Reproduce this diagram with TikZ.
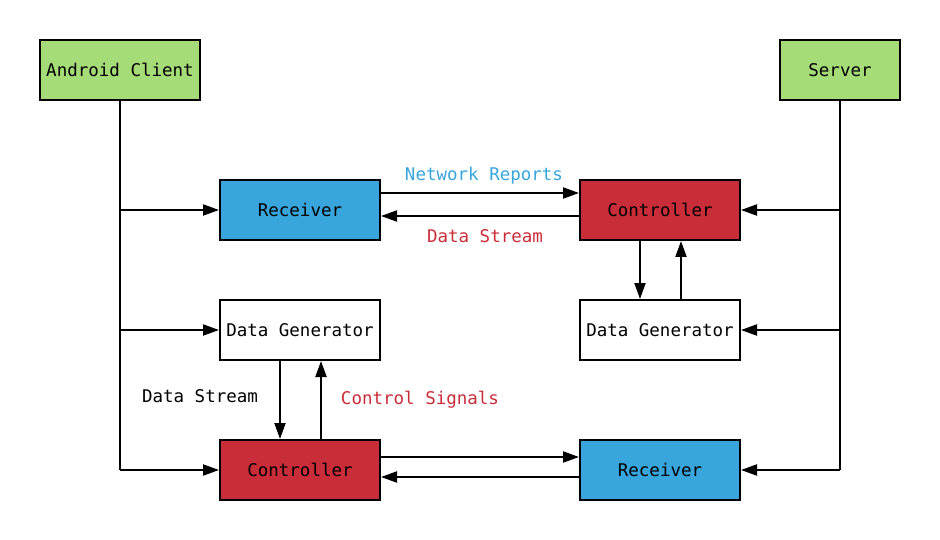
\documentclass[tikz,border=0pt]{standalone}
\usepackage{fontspec}
\setmonofont{DejaVu Sans Mono}
\usetikzlibrary{arrows.meta,calc}
\definecolor{cgreen}{HTML}{A5DC78}
\definecolor{cblue}{HTML}{38A5DC}
\definecolor{cred}{HTML}{C92D39}
\begin{document}
\begin{tikzpicture}[x=1pt,y=-1pt,
  box/.style={draw=black,line width=2pt,minimum width=160pt,minimum height=60pt,inner sep=0pt,font=\ttfamily\fontsize{17.5}{21}\selectfont},
  lbl/.style={font=\ttfamily\fontsize{17.5}{21}\selectfont,inner sep=0pt},
  ln/.style={line width=2pt},
  arr/.style={line width=2pt,-{Triangle[length=16pt,width=11pt]}}]
\useasboundingbox (0,0) rectangle (940,540);
\node[box,fill=cgreen] (ac) at (120,70) {Android Client};
\node[box,fill=cgreen,minimum width=120pt] (sv) at (840,70) {Server};
\node[box,fill=cblue] (rec1) at (300,210) {Receiver};
\node[box,fill=cred] (ctl1) at (660,210) {Controller};
\node[box,fill=white] (dg1) at (300,330) {Data Generator};
\node[box,fill=white] (dg2) at (660,330) {Data Generator};
\node[box,fill=cred] (ctl2) at (300,470) {Controller};
\node[box,fill=cblue] (rec2) at (660,470) {Receiver};
% left trunk
\coordinate (lt) at (ac.south |- ctl2.west);
\draw[ln] (ac.south) -- (lt);
\draw[arr] (ac.south |- rec1.west) -- (rec1.west);
\draw[arr] (ac.south |- dg1.west) -- (dg1.west);
\draw[arr] (lt) -- (ctl2.west);
% right trunk
\coordinate (rt) at (sv.south |- rec2.east);
\draw[ln] (sv.south) -- (rt);
\draw[arr] (sv.south |- ctl1.east) -- (ctl1.east);
\draw[arr] (sv.south |- dg2.east) -- (dg2.east);
\draw[arr] (rt) -- (rec2.east);
% top horizontal
\draw[arr] ([yshift=17pt]rec1.east) -- ([yshift=17pt]ctl1.west);
\draw[arr] ([yshift=-6pt]ctl1.west) -- ([yshift=-6pt]rec1.east);
% bottom horizontal
\draw[arr] ([yshift=13pt]ctl2.east) -- ([yshift=13pt]rec2.west);
\draw[arr] ([yshift=-7pt]rec2.west) -- ([yshift=-7pt]ctl2.east);
% verticals left
\draw[arr] ([xshift=-20pt]dg1.south) -- ([xshift=-20pt]ctl2.north);
\draw[arr] ([xshift=21pt]ctl2.north) -- ([xshift=21pt]dg1.south);
% verticals right
\draw[arr] ([xshift=-20pt]ctl1.south) -- ([xshift=-20pt]dg2.north);
\draw[arr] ([xshift=21pt]dg2.north) -- ([xshift=21pt]ctl1.south);
% labels
\node[lbl,text=cblue] (l1) at (484,176) {Network Reports};
\node[lbl,text=cred] (l2) at (485,236) {Data Stream};
\node[lbl] (l3) at (200,396) {Data Stream};
\node[lbl,text=cred] (l4) at (420,400) {Control Signals};
\end{tikzpicture}
\end{document}
